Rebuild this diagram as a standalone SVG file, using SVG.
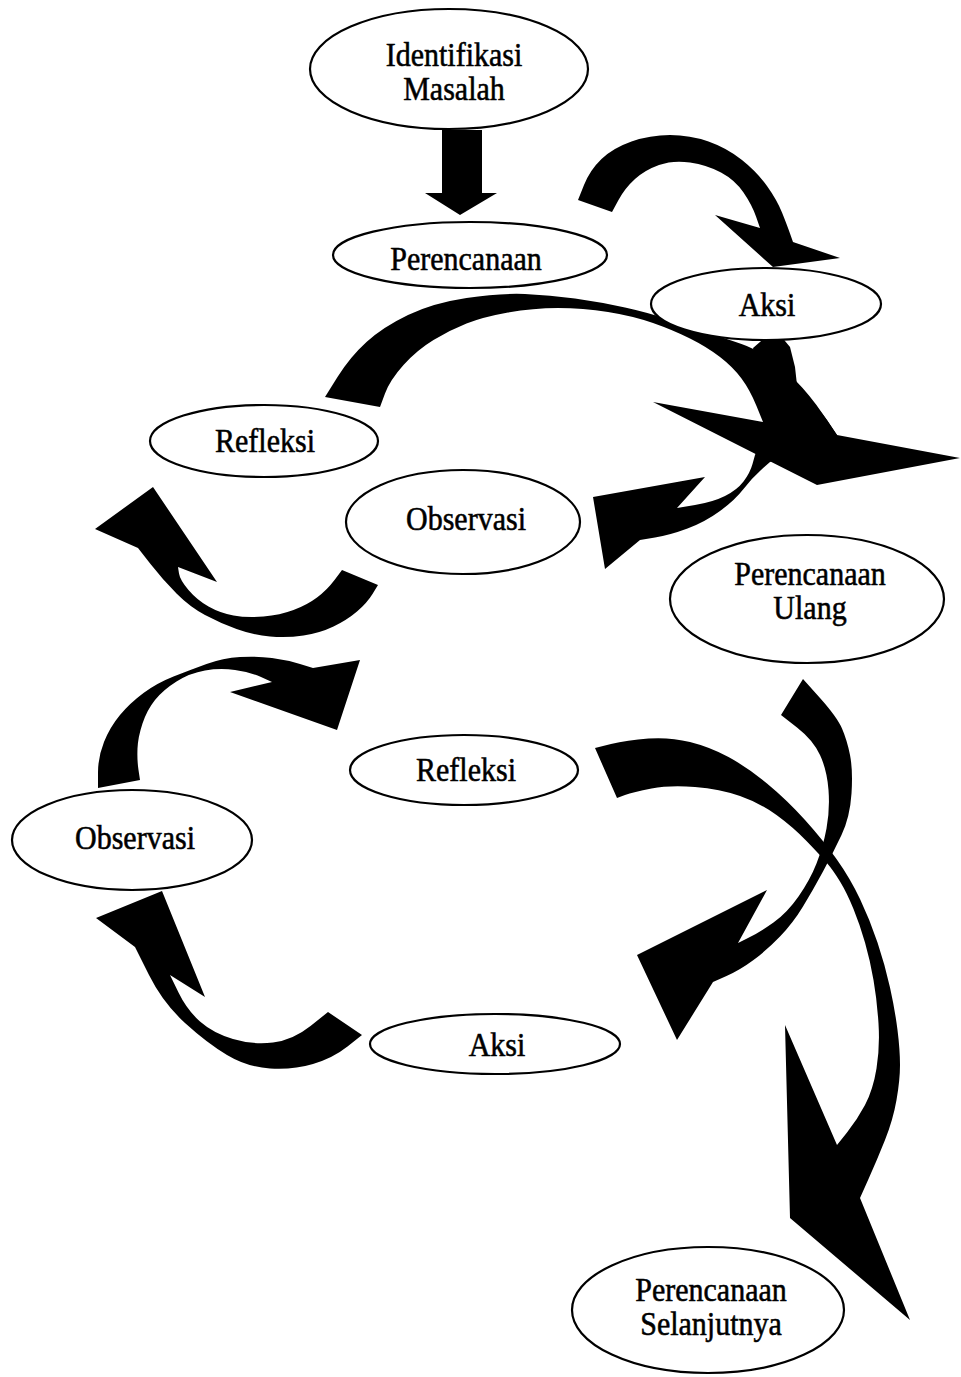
<svg xmlns="http://www.w3.org/2000/svg" width="961" height="1377" viewBox="0 0 961 1377">
<style>
.n ellipse{fill:#fff;stroke:#000;stroke-width:2.2}
.n text{font-family:"Liberation Serif","Times New Roman",serif;font-size:30px;fill:#000;stroke:#000;stroke-width:0.5;text-anchor:middle}
.a path{fill:#000;stroke:none}
</style>
<rect width="961" height="1377" fill="#fff"/>
<g id="connectors" class="a">
<path id="a1" d="M442,130 L482,130 L482,193 L497,193 L460,215 L425,193 L442,193 Z"/>
<path id="a2" d="M578,200 L584,185 Q590,170 601.5,159 Q613,148 631.5,141.5 Q650,135 670,135 Q690,135 708.5,141.5 Q727,148 742,160 Q757,172 767,186 Q777,200 782,212.5 Q787,225 790,233.5 L793,242 L840,258 L773,267 L715,215 L760,228 L756,216.5 Q752,205 743.5,192.5 Q735,180 721,172.5 Q707,165 690,162.5 Q673,160 659,165 Q645,170 635,179 Q625,188 618.5,200 L612,212 Z"/>
<path id="a3" d="M325,397 L337.5,377 Q350,357 366.5,342 Q383,327 408,315 Q433,303 466.5,298 Q500,293 525,294 Q550,295 575,298.5 Q600,302 625,307.5 Q650,313 670,320 Q690,327 710,333.5 Q730,340 741.5,344 Q753,348 766.5,356.5 Q780,365 795,380 Q810,395 823.5,415 L837,435 L960,458 L817,485 L653,402 L763,422 L756.5,406 Q750,390 741.5,378.5 Q733,367 720,357 Q707,347 690,338.5 Q673,330 653,323 Q633,316 608,312 Q583,308 558,308 Q533,308 508,312.5 Q483,317 466.5,323.5 Q450,330 433.5,340 Q417,350 403.5,365 Q390,380 385,393.5 L380,407 Z"/>
<path id="a4" d="M753,348 L775,329 L790,347 L795,367 L797,385 L813,402 L827,420 L837,435 L800,450 L770,462 L761,470 Q752,478 743.5,489 Q735,500 720,511 Q705,522 687.5,528.5 Q670,535 655,537.5 L640,540 L605,569 L593,497 L705,477 L677,508 L695,505 Q713,502 725,496 Q737,490 743.5,481.5 Q750,473 752.5,464 L755,455 L770,420 L760,380 Z"/>
<path id="a5" d="M342,570 L378,585 L372.5,594 Q367,603 357,611.5 Q347,620 333.5,626.5 Q320,633 303.5,635.5 Q287,638 270,636.5 Q253,635 236.5,629 Q220,623 205,615 Q190,607 176.5,593.5 Q163,580 150.5,564 L138,548 L95,529 L153,487 L217,582 L178,567 L179,573.5 Q180,580 188.5,590 Q197,600 208.5,606.5 Q220,613 233.5,615.5 Q247,618 263.5,616.5 Q280,615 293.5,610 Q307,605 317,597.5 Q327,590 334.5,580 Z"/>
<path id="a6" d="M98,788 L98,772.5 Q98,757 104,742 Q110,727 120,715 Q130,703 143.5,693 Q157,683 173.5,676.5 Q190,670 206.5,664 Q223,658 240,657 Q257,656 272,658 Q287,660 300,664 L313,668 L360,660 L337,730 L230,692 L272,682 L261,677 Q250,672 235,670 Q220,668 205,670.5 Q190,673 176.5,681.5 Q163,690 155,700 Q147,710 142.5,723.5 Q138,737 137.5,748.5 Q137,760 138.5,770 L140,780 Z"/>
<path id="a7" d="M803,679 L820,698 Q837,717 842,728.5 Q847,740 850,755 Q853,770 851.5,793.5 Q850,817 841.5,835 Q833,853 823,871.5 Q813,890 803,906.5 Q793,923 780,936.5 Q767,950 753.5,960 Q740,970 726.5,976 L713,982 L677,1040 L637,955 L767,890 L738,943 L749,937.5 Q760,932 773.5,922.5 Q787,913 798.5,896.5 Q810,880 816.5,863.5 Q823,847 826.5,828.5 Q830,810 828.5,790 Q827,770 820,755 Q813,740 797,727.5 L781,715 Z"/>
<path id="a8" d="M595,748 L611,744 Q627,740 648.5,738.5 Q670,737 690,742 Q710,747 728.5,757 Q747,767 767,783.5 Q787,800 805,820 Q823,840 836.5,859 Q850,878 860,899 Q870,920 877.5,942.5 Q885,965 890,987.5 Q895,1010 897.5,1030 Q900,1050 900,1065 Q900,1080 896.5,1100 Q893,1120 885,1140 Q877,1160 868.5,1179 L860,1198 L910,1320 L790,1218 L785,1025 L837,1145 L847,1132.5 Q857,1120 865,1105 Q873,1090 876.5,1068.5 Q880,1047 878.5,1023.5 Q877,1000 873.5,980 Q870,960 865,942.5 Q860,925 853.5,909 Q847,893 840,881.5 Q833,870 826.5,862.5 Q820,855 806.5,841 Q793,827 776.5,815 Q760,803 740,796 Q720,789 695,787 Q670,785 651.5,788.5 Q633,792 625,795 L617,798 Z"/>
<path id="a9" d="M328,1012 L362,1035 L347.5,1046.5 Q333,1058 313,1064 Q293,1070 270,1068.5 Q247,1067 227,1055 Q207,1043 185,1023 Q163,1003 149,975 L135,947 L96,918 L162,891 L205,997 L170,975 L178.5,992.5 Q187,1010 200,1021.5 Q213,1033 233,1039 Q253,1045 273,1042.5 Q293,1040 310.5,1026 Z"/>
</g>
<g id="n1" class="n"><ellipse cx="449" cy="69" rx="139" ry="60"/><text transform="translate(454,66) scale(1,1.12)">Identifikasi</text><text transform="translate(454,100) scale(1,1.12)">Masalah</text></g>
<g id="n2" class="n"><ellipse cx="470" cy="255" rx="137" ry="33"/><text transform="translate(466,270) scale(1,1.12)">Perencanaan</text></g>
<g id="n3" class="n"><ellipse cx="766" cy="304" rx="115" ry="36"/><text transform="translate(767,316) scale(1,1.12)">Aksi</text></g>
<g id="n4" class="n"><ellipse cx="264" cy="441" rx="114" ry="36"/><text transform="translate(265,452) scale(1,1.12)">Refleksi</text></g>
<g id="n5" class="n"><ellipse cx="463" cy="522" rx="117" ry="52"/><text transform="translate(466,530) scale(1,1.12)">Observasi</text></g>
<g id="n6" class="n"><ellipse cx="807" cy="599" rx="137" ry="64"/><text transform="translate(810,585) scale(1,1.12)">Perencanaan</text><text transform="translate(810,619) scale(1,1.12)">Ulang</text></g>
<g id="n7" class="n"><ellipse cx="464" cy="770" rx="114" ry="35"/><text transform="translate(466,781) scale(1,1.12)">Refleksi</text></g>
<g id="n8" class="n"><ellipse cx="132" cy="840" rx="120" ry="50"/><text transform="translate(135,849) scale(1,1.12)">Observasi</text></g>
<g id="n9" class="n"><ellipse cx="495" cy="1044" rx="125" ry="30"/><text transform="translate(497,1056) scale(1,1.12)">Aksi</text></g>
<g id="n10" class="n"><ellipse cx="708" cy="1310" rx="136" ry="63"/><text transform="translate(711,1301) scale(1,1.12)">Perencanaan</text><text transform="translate(711,1335) scale(1,1.12)">Selanjutnya</text></g>
</svg>
